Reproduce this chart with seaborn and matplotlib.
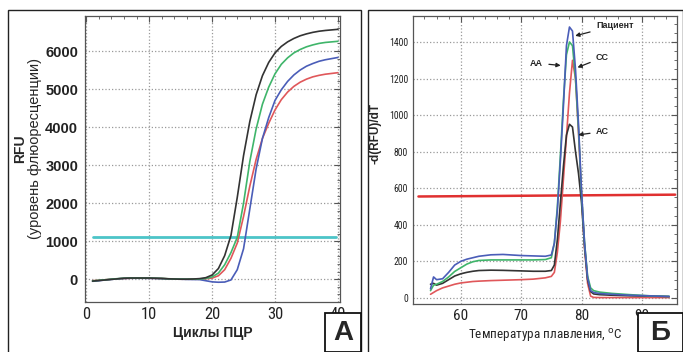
import numpy as np
import pandas as pd
import matplotlib
matplotlib.use("Agg")
import matplotlib.pyplot as plt
from matplotlib.patches import Rectangle
from matplotlib.ticker import AutoMinorLocator
from matplotlib import font_manager
import seaborn as sns

# ---- Панель А: кривые амплификации ----
cycles = list(range(1, 41))
rfu_black = [-50, -35, -20, -5, 10, 25, 30, 30, 30, 30, 25, 20, 10, 5, 0, 0, 5, 15, 40, 110,
             280, 620, 1150, 2150, 3250, 4150, 4850, 5350, 5700, 5950,
             6120, 6240, 6330, 6400, 6450, 6490, 6520, 6540, 6555, 6570]
rfu_green = [-45, -30, -15, 0, 15, 25, 30, 30, 30, 28, 25, 20, 12, 6, 2, 0, 2, 5, 20, 60,
             160, 380, 700, 1100, 2000, 3100, 3950, 4600, 5050, 5400,
             5650, 5820, 5950, 6040, 6110, 6160, 6200, 6225, 6240, 6255]
rfu_red = [-40, -30, -15, 0, 10, 20, 25, 28, 28, 25, 22, 18, 10, 5, 0, 0, 0, 0, 10, 30,
           90, 250, 550, 950, 1650, 2450, 3150, 3700, 4100, 4450,
           4720, 4920, 5070, 5180, 5260, 5320, 5360, 5390, 5410, 5430]
rfu_blue = [-55, -40, -20, -5, 10, 20, 25, 25, 25, 22, 20, 15, 8, 2, 0, -5, -8, -10, -40, -70,
            -80, -75, -20, 250, 800, 1850, 2900, 3700, 4250, 4700,
            4980, 5200, 5370, 5500, 5600, 5670, 5730, 5770, 5800, 5830]
threshold_a = 1100

# ---- Панель Б: кривые плавления ----
temps = [55, 55.5, 56, 57, 58, 59, 60, 61, 62, 63, 65, 67, 70, 72, 74, 75, 75.5, 76, 76.5,
         77, 77.5, 78, 78.5, 79, 79.5, 80, 80.5, 81, 81.5, 82, 83, 85, 88, 91, 94.5]
d_patient = [50, 115, 100, 105, 140, 180, 200, 212, 220, 228, 236, 238, 232, 230, 228, 235, 300,
             480, 750, 1050, 1380, 1482, 1460, 1250, 950, 580, 300, 110, 40, 30, 24, 20, 15, 12, 8]
d_aa = [40, 70, 75, 90, 115, 145, 165, 185, 198, 205, 208, 208, 208, 208, 210, 220, 300,
        500, 780, 1080, 1330, 1400, 1380, 1200, 920, 570, 300, 120, 55, 40, 32, 25, 18, 12, 8]
d_ac = [75, 80, 70, 80, 100, 120, 132, 140, 146, 150, 152, 151, 148, 146, 146, 150, 180,
        320, 520, 720, 890, 950, 935, 800, 680, 520, 280, 100, 35, 22, 18, 15, 12, 10, 8]
d_cc = [20, 30, 40, 55, 65, 75, 82, 86, 90, 92, 95, 97, 100, 103, 110, 118, 140,
        250, 420, 650, 880, 1120, 1300, 1200, 900, 560, 270, 80, 10, 3, 2, 2, 2, 2, 2]
threshold_b = 560

sns.set_style("white")
plt.rcParams['font.family'] = ['Liberation Sans', 'DejaVu Sans']

# узкий шрифт для подписей делений, если есть
names = {f.name for f in font_manager.fontManager.ttflist}
narrow = [n for n in ['Liberation Sans Narrow', 'DejaVu Sans Condensed', 'Roboto Condensed']
          if n in names] + ['Liberation Sans', 'DejaVu Sans']
print(narrow)

fig = plt.figure(figsize=(6.83, 3.52), dpi=100)

def style_axes(ax, nx, ny):
    ax.grid(True, which='major', color='#999999', linestyle=':', linewidth=0.9)
    ax.xaxis.set_minor_locator(AutoMinorLocator(nx))
    ax.yaxis.set_minor_locator(AutoMinorLocator(ny))
    ax.tick_params(which='both', direction='in', top=True, right=True, colors='#555555',
                   labelcolor='#222222')
    ax.tick_params(which='major', length=4)
    ax.tick_params(which='minor', length=2.5)
    for s in ax.spines.values():
        s.set_color('#555555')
        s.set_linewidth(0.9)

# Панель А
ax1 = fig.add_axes([0.1245, 0.142, 0.373, 0.8125])
df_a = pd.DataFrame({'cycle': cycles, 'black': rfu_black, 'green': rfu_green,
                     'red': rfu_red, 'blue': rfu_blue})
ax1.axhline(threshold_a, xmin=0.03, xmax=0.985, color='#4cc4c8', lw=2)
for col, c in [('red', '#e0575a'), ('blue', '#4a5db8'), ('green', '#3fb56a'), ('black', '#333333')]:
    sns.lineplot(data=df_a, x='cycle', y=col, color=c, lw=1.2, ax=ax1)
ax1.set_xlim(-0.2, 40.3)
ax1.set_ylim(-600, 6920)
ax1.set_xticks([0, 10, 20, 30, 40])
ax1.set_yticks(range(0, 7000, 1000))
style_axes(ax1, 5, 5)
ax1.tick_params(axis='y', pad=5)
for lab in ax1.get_yticklabels():
    lab.set_fontweight('bold')
    lab.set_fontsize(10.5)
for lab in ax1.get_xticklabels():
    lab.set_family(narrow)
    lab.set_fontsize(12)
ax1.set_xlabel('Циклы ПЦР', fontsize=10, fontweight='bold', labelpad=3)
ax1.set_ylabel('')
fig.text(20 / 683, 0.577, 'RFU', rotation=90, ha='center', va='center', fontsize=10, fontweight='bold')
fig.text(35 / 683, 0.577, '(уровень флюоресценции)', rotation=90, ha='center', va='center',
         fontsize=10.5)

# Панель Б
ax2 = fig.add_axes([0.6047, 0.1364, 0.3865, 0.818])
df_b = pd.DataFrame({'T': temps, 'patient': d_patient, 'aa': d_aa, 'ac': d_ac, 'cc': d_cc})
ax2.plot([53, 95.5], [threshold_b - 5, threshold_b + 5], color='#e03030', lw=1.8)
for col, c in [('cc', '#e0575a'), ('ac', '#333333'), ('aa', '#3fb56a'), ('patient', '#4a5db8')]:
    sns.lineplot(data=df_b, x='T', y=col, color=c, lw=1.2, ax=ax2)
ax2.set_xlim(52.1, 95.8)
ax2.set_ylim(-33, 1542)
ax2.set_xticks([60, 70, 80, 90])
ax2.set_yticks(range(0, 1600, 200))
style_axes(ax2, 5, 4)
for lab in ax2.get_xticklabels() + ax2.get_yticklabels():
    lab.set_family(narrow)
ax2.tick_params(axis='y', labelsize=7)
ax2.tick_params(axis='x', labelsize=11)
ax2.set_xlabel(r'Температура плавления, $^{\mathrm{o}}$C', fontsize=9.5, labelpad=3,
               family=narrow)
ax2.set_ylabel('')
fig.text(375 / 683, 1 - 133 / 352, '-d(RFU)/dT', rotation=90, ha='center', va='center',
         fontsize=8.5, fontweight='bold')

arrow = dict(arrowstyle='-|>', color='#222222', lw=0.9, mutation_scale=6)
ax2.annotate('Пациент', xy=(78.5, 1430), xytext=(82.4, 1490), fontsize=6.5,
             fontweight='bold', va='center', ha='left', arrowprops=arrow)
ax2.annotate('AA', xy=(77.0, 1270), xytext=(73.6, 1285), fontsize=6.5,
             fontweight='bold', va='center', ha='right', arrowprops=arrow)
ax2.annotate('CC', xy=(78.9, 1255), xytext=(82.4, 1315), fontsize=6.5,
             fontweight='bold', va='center', ha='left', arrowprops=arrow)
ax2.annotate('AC', xy=(79.0, 890), xytext=(82.4, 910), fontsize=6.5,
             fontweight='bold', va='center', ha='left', arrowprops=arrow)

# рамки панелей и метки А / Б
W, H = 683.0, 352.0
def box(x0, y0, x1, y1, lw=1.0):
    fig.patches.append(Rectangle((x0 / W, 1 - y1 / H), (x1 - x0) / W, (y1 - y0) / H,
                                 transform=fig.transFigure, fill=False, ec='#222222', lw=lw))
box(8, 10, 361, 360)
box(368, 10, 682.5, 360)
fig.patches.append(Rectangle((325 / W, 0), 36 / W, 39 / H, transform=fig.transFigure,
                             fc='white', ec='#111111', lw=1.3, zorder=5))
fig.text(343 / W, 19 / H, 'А', ha='center', va='center', fontsize=20, fontweight='bold', zorder=6)
fig.patches.append(Rectangle((638 / W, 0), 44.5 / W, 39 / H, transform=fig.transFigure,
                             fc='white', ec='#111111', lw=1.3, zorder=5))
fig.text(660 / W, 19 / H, 'Б', ha='center', va='center', fontsize=20, fontweight='bold', zorder=6)

plt.savefig('out.png', dpi=100)
